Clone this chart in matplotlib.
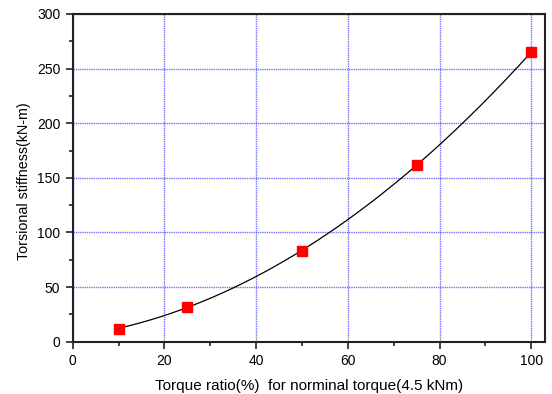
import numpy as np
import matplotlib
matplotlib.use("Agg")
import matplotlib.pyplot as plt
from matplotlib.ticker import MultipleLocator

# measured torsional stiffness vs torque ratio
torque_ratio = [10, 25, 50, 75, 100]
stiffness = [12, 32, 83, 162, 265]

plt.rcParams['font.family'] = ['Liberation Sans', 'DejaVu Sans']

fig = plt.figure(figsize=(5.52, 3.94), dpi=100)
ax = fig.add_axes([0.1317, 0.1327, 0.8556, 0.8318])

# second order fit through the measurements
coef = np.polyfit(torque_ratio, stiffness, 2)
xs = np.linspace(min(torque_ratio), max(torque_ratio), 200)
ax.plot(xs, np.polyval(coef, xs), color='black', lw=0.9, zorder=3)
ax.plot(torque_ratio, stiffness, 's', color='red', markersize=7, zorder=4)

ax.set_xlim(0, 103)
ax.set_ylim(0, 300)
ax.xaxis.set_major_locator(MultipleLocator(20))
ax.xaxis.set_minor_locator(MultipleLocator(10))
ax.yaxis.set_major_locator(MultipleLocator(50))
ax.yaxis.set_minor_locator(MultipleLocator(25))

ax.grid(True, which='major', color='#4545ff', lw=1.0, ls=(0, (1, 0.6)), alpha=0.75)
ax.set_axisbelow(True)

for s in ax.spines.values():
    s.set_linewidth(1.5)
    s.set_color('#222222')
ax.tick_params(which='both', direction='out', top=False, right=False,
               width=1.2, color='#222222', labelsize=10)
ax.tick_params(which='major', length=5, pad=4)
ax.tick_params(which='minor', length=3)

ax.set_xlabel('Torque ratio(%)  for norminal torque(4.5 kNm)', fontsize=11, labelpad=8)
ax.set_ylabel('Torsional stiffness(kN-m)', fontsize=10.3)
ax.yaxis.set_label_coords(-0.088, 0.49)

fig.savefig('out.png', dpi=100)
